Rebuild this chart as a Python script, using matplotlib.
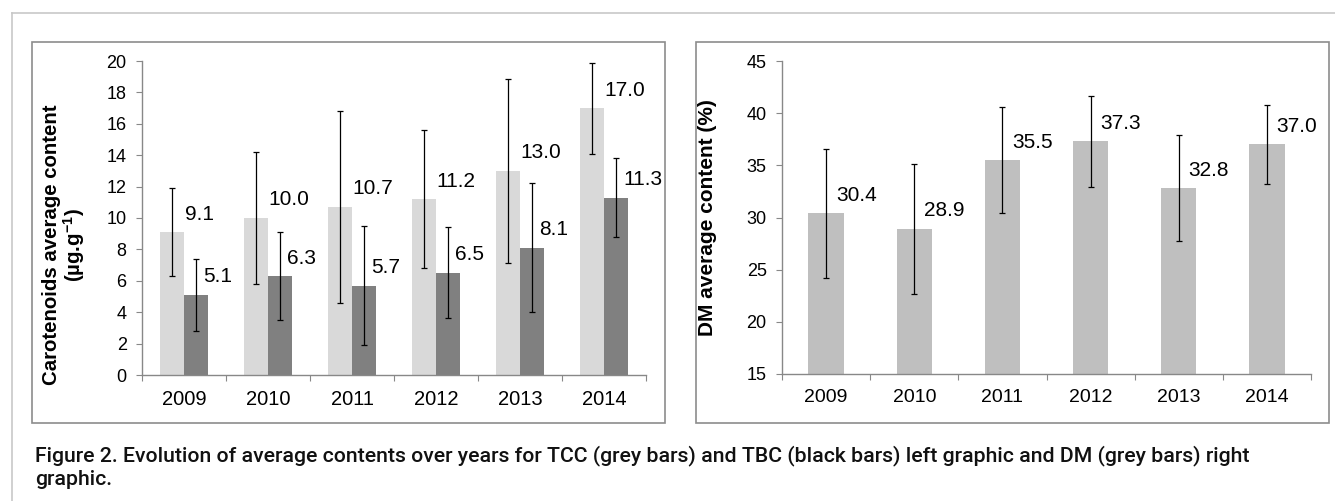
import matplotlib
matplotlib.use("Agg")
import matplotlib.pyplot as plt
from matplotlib.patches import Rectangle
from matplotlib.lines import Line2D
import numpy as np

plt.rcParams['font.family'] = ['Liberation Sans', 'DejaVu Sans']
plt.rcParams['mathtext.fontset'] = 'custom'
plt.rcParams['mathtext.rm'] = 'Liberation Sans'
plt.rcParams['mathtext.bf'] = 'Liberation Sans:bold'

years = ['2009', '2010', '2011', '2012', '2013', '2014']

tcc = [9.1, 10.0, 10.7, 11.2, 13.0, 17.0]
tcc_err = [2.8, 4.2, 6.1, 4.4, 5.85, 2.9]
tbc = [5.1, 6.3, 5.7, 6.5, 8.1, 11.3]
tbc_err = [2.3, 2.8, 3.8, 2.9, 4.1, 2.5]

dm = [30.4, 28.9, 35.5, 37.3, 32.8, 37.0]
dm_err = [6.2, 6.2, 5.05, 4.35, 5.1, 3.8]

caption1 = ("Figure 2. Evolution of average contents over years for TCC (grey bars) and TBC (black bars) "
            "left graphic and DM (grey bars) right")
caption2 = "graphic."

W, H = 1335, 501
fig = plt.figure(figsize=(W / 100, H / 100), dpi=100)


def fx(px):
    return px / W


def fy(py):
    return 1 - py / H


# outer frame (light grey) and the two panel boxes
fig.add_artist(Line2D([fx(12), fx(12)], [fy(13), 0], color='#c8c8c8', lw=1.2))
fig.add_artist(Line2D([fx(12), 1], [fy(13), fy(13)], color='#c8c8c8', lw=1.2))
for x0, x1 in [(32, 665), (696, 1329)]:
    fig.add_artist(Rectangle((fx(x0), fy(423)), fx(x1 - x0), fy(42) - fy(423),
                             fill=False, edgecolor='#8c8c8c', lw=1.2))

axis_col = '#888888'


def style_axis(ax, ymin, ymax, step, xsize):
    n = len(years)
    ax.set_xlim(-0.5, n - 0.5)
    ax.set_ylim(ymin, ymax)
    ax.set_yticks(np.arange(ymin, ymax + 0.1, step))
    ax.set_xticks(np.arange(-0.5, n, 1.0))
    ax.set_xticklabels([])
    ax.set_xticks(np.arange(n), minor=True)
    ax.set_xticklabels(years, minor=True)
    ax.tick_params(axis='x', which='major', length=4.5, color=axis_col, direction='out')
    ax.tick_params(axis='x', which='minor', length=0, labelsize=xsize, pad=11)
    ax.tick_params(axis='y', length=4, color=axis_col, labelsize=13, pad=7)
    for s in ['top', 'right']:
        ax.spines[s].set_visible(False)
    for s in ['left', 'bottom']:
        ax.spines[s].set_color(axis_col)
        ax.spines[s].set_linewidth(1.0)


def label_bars(ax, xs, vals, dx):
    for x, v in zip(xs, vals):
        ax.annotate(f"{v:.1f}", (x, v), xytext=(dx, 13), textcoords='offset points',
                    ha='left', va='center', fontsize=15)


ekw = dict(ecolor='black', elinewidth=0.9, capsize=2.5, capthick=0.9)

# left chart
ax1 = fig.add_axes([fx(142), fy(375), fx(646 - 142), fy(61) - fy(375)])
x = np.arange(len(years))
bw = 0.285
ax1.bar(x - bw / 2, tcc, bw, color='#d9d9d9', yerr=tcc_err, error_kw=ekw)
ax1.bar(x + bw / 2, tbc, bw, color='#808080', yerr=tbc_err, error_kw=ekw)
style_axis(ax1, 0, 20, 2, 14.5)
label_bars(ax1, x - bw / 2, tcc, 9)
label_bars(ax1, x + bw / 2, tbc, 5)
ax1.set_ylabel("Carotenoids average content\n(µg.g$^{\\mathbf{-1}}$)", fontsize=14.7,
               fontweight='bold', linespacing=1.0)
ax1.yaxis.set_label_coords(-0.109, 0.414)

# right chart
ax2 = fig.add_axes([fx(782), fy(374), fx(1311 - 782), fy(61) - fy(374)])
bw2 = 0.4
ax2.bar(x, dm, bw2, color='#bfbfbf', yerr=dm_err, error_kw=ekw)
style_axis(ax2, 15, 45, 5, 14)
label_bars(ax2, x, dm, 7)
ax2.set_ylabel("DM average content (%)", fontsize=15, fontweight='bold')
ax2.yaxis.set_label_coords(-0.123, 0.5)

# caption: scale the font so that the first line spans the same width as in the figure
cap_font = ['Roboto', 'DejaVu Sans']
t1 = fig.text(fx(35), fy(461), caption1, ha='left', va='baseline', fontsize=13,
              family=cap_font, fontweight='medium', color='#111111')
r = fig.canvas.get_renderer()
wpx = t1.get_window_extent(r).width
size = 13 * 1213 / wpx
t1.set_fontsize(size)
fig.text(fx(35), fy(485), caption2, ha='left', va='baseline', fontsize=size,
         family=cap_font, fontweight='medium', color='#111111')

fig.savefig("out.png", dpi=100)
